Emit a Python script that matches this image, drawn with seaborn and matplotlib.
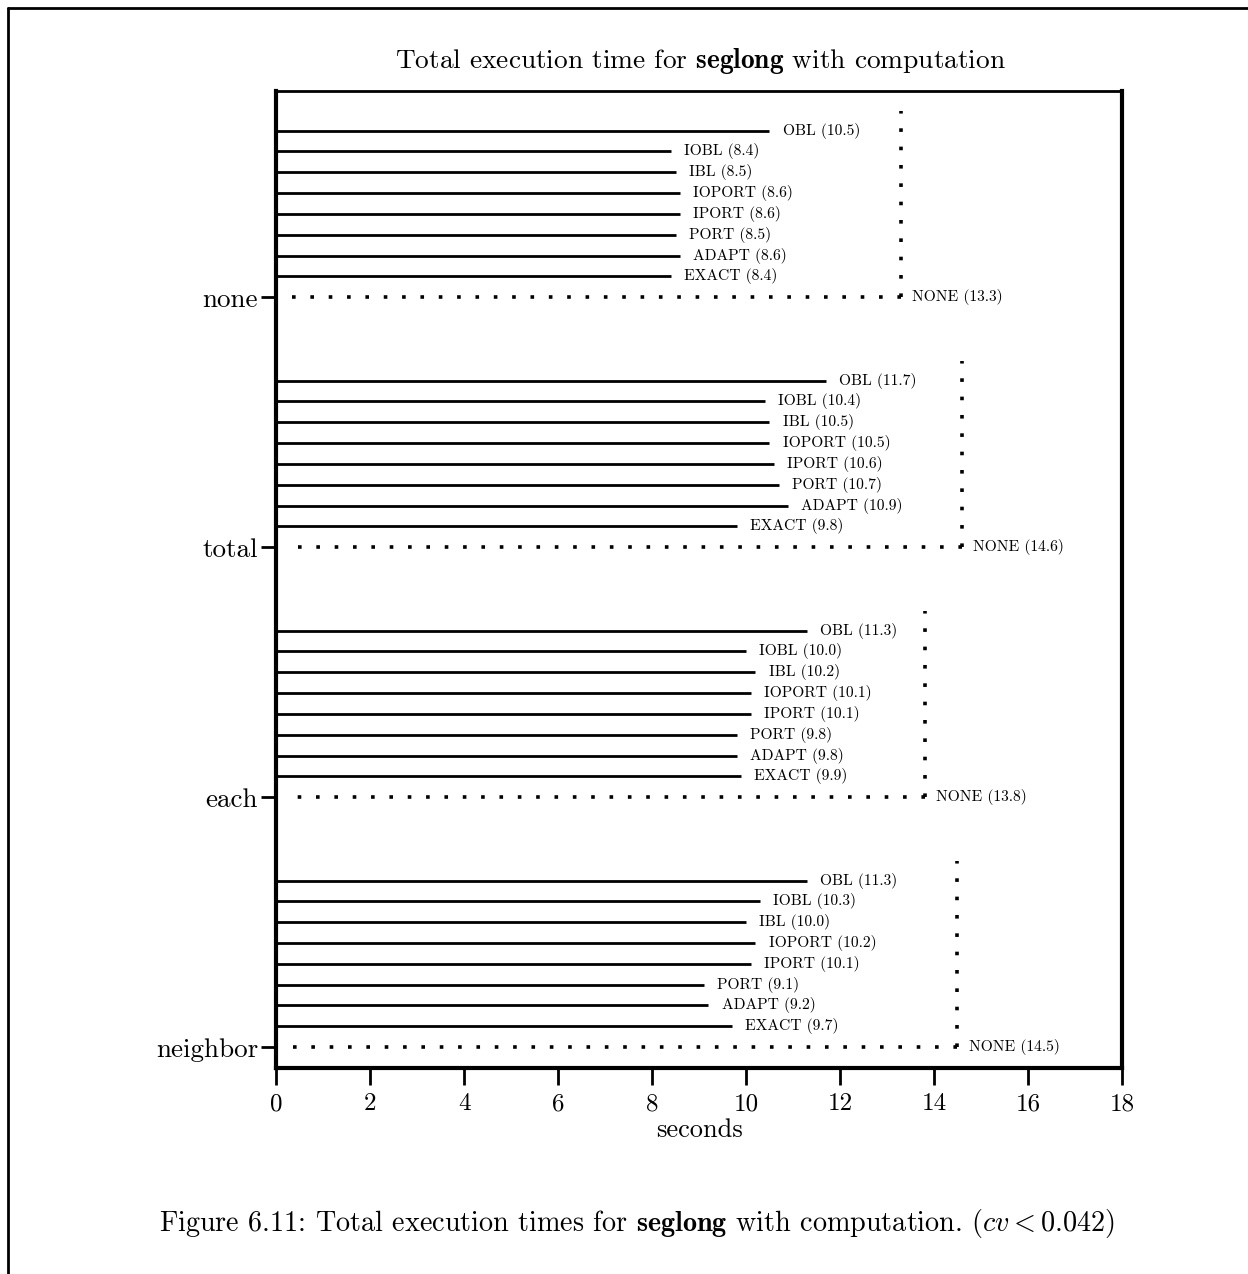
import matplotlib
matplotlib.use("Agg")
import matplotlib.pyplot as plt
import seaborn as sns
import pandas as pd
from matplotlib.lines import Line2D

groups = ["neighbor", "each", "total", "none"]
methods = ["EXACT", "ADAPT", "PORT", "IPORT", "IOPORT", "IBL", "IOBL", "OBL"]

none_vals = [8.4, 8.6, 8.5, 8.6, 8.6, 8.5, 8.4, 10.5]
total_vals = [9.8, 10.9, 10.7, 10.6, 10.5, 10.5, 10.4, 11.7]
each_vals = [9.9, 9.8, 9.8, 10.1, 10.1, 10.2, 10.0, 11.3]
neighbor_vals = [9.7, 9.2, 9.1, 10.1, 10.2, 10.0, 10.3, 11.3]
baseline_vals = [14.5, 13.8, 14.6, 13.3]  # NONE, same order as groups

group_vals = {"neighbor": neighbor_vals, "each": each_vals,
              "total": total_vals, "none": none_vals}

rows = []
for gi, g in enumerate(groups):
    for mi, m in enumerate(methods):
        rows.append({"group": g, "method": m, "seconds": group_vals[g][mi],
                     "pos": gi * 12 + mi + 1})
df = pd.DataFrame(rows)

sns.set_theme(style="ticks")
plt.rcParams["font.family"] = ["cmr10", "DejaVu Serif"]
plt.rcParams["mathtext.fontset"] = "cm"
plt.rcParams["axes.unicode_minus"] = False
plt.rcParams["text.color"] = "black"
plt.rcParams["axes.labelcolor"] = "black"

fig = plt.figure(figsize=(12.48, 12.74), dpi=100)
ax = fig.add_axes([0.2212, 0.1617, 0.899 - 0.2212, 0.9286 - 0.1617])

ax.hlines(df["pos"], 0, df["seconds"], color="black", lw=2)
for _, r in df.iterrows():
    ax.text(r["seconds"] + 0.28, r["pos"], f"{r['method']} ({r['seconds']:.1f})",
            fontsize=11.2, va="center", ha="left", color="black")

# dotted NONE baseline: drawn outward from the corner so a dot sits there
dots = (0, (1, 4.08))
for gi, g in enumerate(groups):
    base = gi * 12
    v = baseline_vals[gi]
    ax.plot([v, 0.2], [base, base], color="black", lw=2.6, linestyle=dots)
    ax.plot([v, v], [base, base + 8.95], color="black", lw=2.6, linestyle=dots)
    ax.text(v + 0.24, base, f"NONE ({v:.1f})", fontsize=11.2, va="center", ha="left")

ax.set_xlim(0, 18)
ax.set_ylim(-1, 45.9)
ax.set_xticks(range(0, 19, 2))
ax.set_yticks([gi * 12 for gi in range(len(groups))])
ax.set_yticklabels(groups)
ax.tick_params(axis="x", direction="out", length=12, width=2, labelsize=18, pad=6, colors="black")
ax.tick_params(axis="y", direction="out", length=11, width=2, labelsize=19.5, pad=2, colors="black")
for side, w in [("left", 3), ("bottom", 3), ("right", 3), ("top", 2)]:
    ax.spines[side].set_visible(True)
    ax.spines[side].set_linewidth(w)
    ax.spines[side].set_color("black")
ax.set_xlabel("seconds", fontsize=19, labelpad=2)
ax.set_ylabel("")

fig.text(0.561, 0.952, r"Total execution time for $\mathbf{seglong}$ with computation",
         ha="center", va="center", fontsize=19.7)
fig.text(0.51, 0.0393,
         r"Figure 6.11: Total execution times for $\mathbf{seglong}$ with computation. $(cv < 0.042)$",
         ha="center", va="center", fontsize=20.3)

fig.add_artist(Line2D([8 / 1248, 1.0], [1 - 8 / 1274, 1 - 8 / 1274],
                      transform=fig.transFigure, color="black", lw=2))
fig.add_artist(Line2D([8 / 1248, 8 / 1248], [0.0, 1 - 8 / 1274],
                      transform=fig.transFigure, color="black", lw=2))

fig.savefig("out.png", dpi=100, facecolor="white")
